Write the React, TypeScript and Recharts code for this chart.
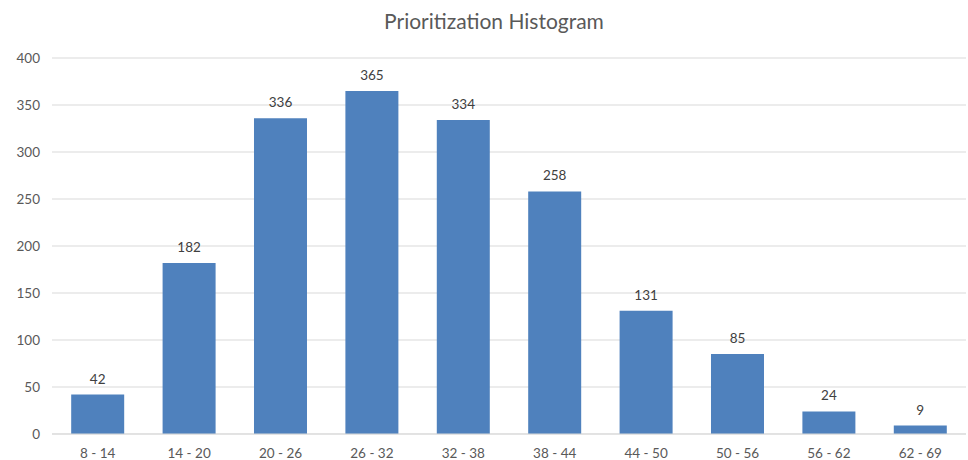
import { BarChart, Bar, XAxis, YAxis, CartesianGrid, LabelList } from 'recharts';

const bins = ['8 - 14', '14 - 20', '20 - 26', '26 - 32', '32 - 38', '38 - 44', '44 - 50', '50 - 56', '56 - 62', '62 - 69'];
const counts = [42, 182, 336, 365, 334, 258, 131, 85, 24, 9];
const yTicks = [0, 50, 100, 150, 200, 250, 300, 350, 400];

const data = bins.map((bin, i) => ({ bin, count: counts[i] }));

const FONT = 'Lato, "Open Sans", sans-serif';

export default function App() {
  return (
    <div style={{ position: 'absolute', top: 0, left: 0, width: 968, height: 460, background: '#fff', fontFamily: FONT }}>
      <div
        style={{
          position: 'absolute',
          top: 8,
          left: 0,
          width: 988,
          textAlign: 'center',
          fontSize: 21,
          color: '#595959',
        }}
      >
        Prioritization Histogram
      </div>
      <BarChart
        width={968}
        height={460}
        data={data}
        margin={{ top: 58, right: 2, bottom: 0, left: 0 }}
        barCategoryGap="21%"
      >
        <CartesianGrid vertical={false} stroke="#d9d9d9" />
        <XAxis
          dataKey="bin"
          height={26}
          tickLine={false}
          axisLine={{ stroke: '#d9d9d9' }}
          tickMargin={8}
          tick={{ fontSize: 13.5, fill: '#595959', fontFamily: FONT }}
        />
        <YAxis
          width={52}
          domain={[0, 400]}
          ticks={yTicks}
          tickLine={false}
          axisLine={false}
          tickMargin={6}
          tick={{ fontSize: 13.5, fill: '#595959', fontFamily: FONT }}
        />
        <Bar dataKey="count" fill="#4f81bd" isAnimationActive={false}>
          <LabelList dataKey="count" position="top" offset={11} style={{ fontSize: 13.5, fill: '#404040', fontFamily: FONT }} />
        </Bar>
      </BarChart>
    </div>
  );
}
